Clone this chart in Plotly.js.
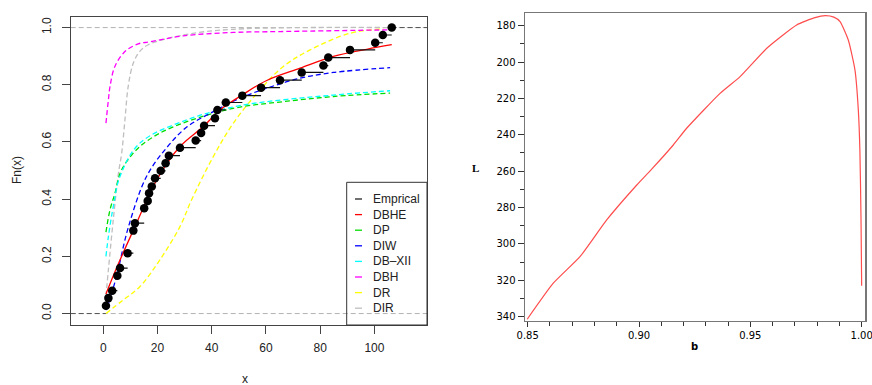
<!DOCTYPE html>
<html>
<head>
<meta charset="utf-8">
<script src="https://cdn.plot.ly/plotly-3.0.1.min.js"></script>
<style>html,body{margin:0;padding:0;background:#fff;}#chart{width:872px;height:385px;}</style>
</head>
<body>
<div id="chart"></div>
<script>
// ---------- Left panel: empirical CDF and fitted CDFs ----------
const empX = [1.0,1.9,3.3,5.2,6.2,9.0,11.1,11.7,15.1,16.4,16.9,17.9,19.1,21.2,23.0,24.2,28.3,34.1,36.1,37.2,41.2,42.1,45.2,51.3,58.2,65.2,73.2,81.2,83.0,91.0,100.3,103.1,106.4];
const empF = [0.027,0.054,0.080,0.132,0.159,0.211,0.290,0.316,0.368,0.394,0.421,0.444,0.473,0.499,0.526,0.552,0.580,0.605,0.631,0.657,0.683,0.712,0.738,0.762,0.790,0.816,0.843,0.867,0.895,0.922,0.947,0.974,1.0];

const dbheX = [1.0,4.9,11.7,19.7,28.3,36.9,43.1,51.7,60.3,72.6,84.9,97.2,106.4];
const dbheY = [0.068,0.159,0.304,0.467,0.584,0.654,0.712,0.767,0.815,0.858,0.899,0.924,0.940];

const dpX = [1.0,2.5,4.3,6.2,8.6,13.5,20.9,30.8,40.6,50.4,66.4,84.9,105.8];
const dpY = [0.285,0.363,0.42,0.49,0.531,0.584,0.631,0.671,0.700,0.722,0.741,0.759,0.771];

const diwX = [1.0,1.9,4.9,9.2,16.0,23.4,30.8,40.6,50.4,60.3,72.6,84.9,105.8];
const diwY = [0.012,0.035,0.13,0.30,0.48,0.58,0.652,0.706,0.753,0.788,0.823,0.843,0.860];

const dbxiiX = [1.0,1.9,3.7,6.2,13.5,30.8,50.4,84.9,105.8];
const dbxiiY = [0.20,0.269,0.374,0.48,0.596,0.677,0.727,0.764,0.779];

const dbhX = [1.0,1.9,2.5,4.3,8.0,12.9,17.2,29.5,48.0,65.2,105.8];
const dbhY = [0.666,0.747,0.794,0.864,0.916,0.943,0.950,0.971,0.983,0.986,0.992];

const drX = [1.0,7.4,13.5,20.9,28.3,32.6,40.6,48.0,57.8,66.4,76.3,91.0,103.3];
const drY = [0.0,0.048,0.094,0.188,0.304,0.398,0.549,0.666,0.782,0.864,0.922,0.980,0.995];

const dirX = [1.0,1.9,3.7,5.6,6.8,8.0,9.2,11.1,13.5,16.6,29.5,48.0,106.0];
const dirY = [0.06,0.153,0.328,0.49,0.561,0.677,0.794,0.876,0.917,0.940,0.974,0.994,1.0];

const legendNames = ['Emprical','DBHE','DP','DIW','DB\u2013XII','DBH','DR','DIR'];
const legendColors = ['#222222','#ff0000','#00dd00','#0000ff','#00ffff','#ff00ff','#ffff00','#bebebe'];

// ---------- Right panel: profile of L against b ----------
const bVals = [0.8498,0.8615,0.8735,0.8855,0.899,0.9057,0.9154,0.9214,0.9364,0.9454,0.9574,0.9708,0.9790,0.9836,0.9875,0.9903,0.9940,0.9970,0.9985,0.9992,0.9997,1.0];
const LVals = [341.4,321.6,307.0,286.8,267.6,258.9,245.6,236.4,217.2,208.0,192.4,179.6,175.6,174.5,175.3,177.8,187.9,204.4,226.3,248.3,285,323];
const bTicks = [0.85,0.90,0.95,1.00];
const bTickText = ['0.85','0.90','0.95','1.00'];

// ---------- build traces ----------
const X_MIN = -12, X_MAX = 119.4;
const W = 872, H = 385;
const px = v => v / W;
const py = v => 1 - v / H;

// ecdf horizontal segments
const segX = [], segY = [];
for (let i = 0; i < empX.length - 1; i++) {
  segX.push(empX[i], empX[i + 1], null);
  segY.push(empF[i], empF[i], null);
}
const dashR = '5px,3px';
function curve(x, y, color, dash) {
  return {x: x, y: y, type: 'scatter', mode: 'lines', xaxis: 'x', yaxis: 'y',
    line: {color: color, width: 1.3, dash: dash, shape: 'spline', smoothing: 1}, hoverinfo: 'skip'};
}
const traces = [
  {x: [X_MIN, empX[0]], y: [0, 0], type: 'scatter', mode: 'lines', line: {color: '#555', width: 1, dash: dashR}},
  {x: [empX[empX.length - 1], X_MAX], y: [1, 1], type: 'scatter', mode: 'lines', line: {color: '#555', width: 1, dash: dashR}},
  curve(dirX, dirY, legendColors[7], dashR),
  curve(drX, drY, legendColors[6], dashR),
  curve(dbhX, dbhY, legendColors[5], dashR),
  curve(dpX, dpY, legendColors[2], dashR),
  curve(dbxiiX, dbxiiY, legendColors[4], dashR),
  curve(diwX, diwY, legendColors[3], dashR),
  curve(dbheX, dbheY, legendColors[1], 'solid'),
  {x: segX, y: segY, type: 'scatter', mode: 'lines', line: {color: '#111', width: 1.2}},
  {x: empX, y: empF, type: 'scatter', mode: 'markers', marker: {color: '#000', size: 8.5}},
  {x: bVals, y: LVals, type: 'scatter', mode: 'lines', xaxis: 'x2', yaxis: 'y2',
    line: {color: '#ff4d4d', width: 1.2, shape: 'spline', smoothing: 0.5}}
];

// ---------- legend drawn by hand (box, keys, labels) ----------
const shapes = [
  {type: 'line', xref: 'x domain', yref: 'y', x0: 0, x1: 1, y0: 0, y1: 0, line: {color: '#b3b3b3', width: 1, dash: dashR}, layer: 'below'},
  {type: 'line', xref: 'x domain', yref: 'y', x0: 0, x1: 1, y0: 1, y1: 1, line: {color: '#b3b3b3', width: 1, dash: dashR}, layer: 'below'},
  {type: 'rect', xref: 'paper', yref: 'paper', x0: px(346.7), x1: px(427), y0: py(325), y1: py(182.3), line: {color: '#333', width: 1}, fillcolor: 'rgba(255,255,255,0)'}
];
const annotations = [];
const legTop = 199, legStep = 15.6;
legendNames.forEach((n, i) => {
  const yy = legTop + i * legStep;
  shapes.push({type: 'line', xref: 'paper', yref: 'paper', x0: px(355), x1: px(362), y0: py(yy), y1: py(yy), line: {color: legendColors[i], width: 1.3}});
  annotations.push({text: n, xref: 'paper', yref: 'paper', x: px(370.5), y: py(yy), xanchor: 'left', yanchor: 'middle', showarrow: false,
    font: {family: 'Liberation Sans, Arial, sans-serif', size: 12, color: '#222'}});
});
annotations.push(
  {text: 'Fn(x)', xref: 'paper', yref: 'paper', x: px(17), y: py(170), textangle: -90, showarrow: false, xanchor: 'center', yanchor: 'middle',
    font: {family: 'Liberation Sans, Arial, sans-serif', size: 12, color: '#222'}},
  {text: 'x', xref: 'paper', yref: 'paper', x: px(245), y: py(379), showarrow: false, xanchor: 'center', yanchor: 'middle',
    font: {family: 'Liberation Sans, Arial, sans-serif', size: 12, color: '#222'}},
  {text: '<b>L</b>', xref: 'paper', yref: 'paper', x: px(476), y: py(168), showarrow: false, xanchor: 'center', yanchor: 'middle',
    font: {family: 'Liberation Serif, serif', size: 11, color: '#000'}},
  {text: '<b>b</b>', xref: 'paper', yref: 'paper', x: px(694), y: py(346), showarrow: false, xanchor: 'center', yanchor: 'middle',
    font: {family: 'DejaVu Sans, sans-serif', size: 10, color: '#000'}}
);

const leftFont = {family: 'Liberation Sans, Arial, sans-serif', size: 12, color: '#222'};
const rightFont = {family: 'DejaVu Sans, sans-serif', size: 10, color: '#000'};

const layout = {
  width: W, height: H, margin: {l: 0, r: 0, t: 0, b: 0},
  paper_bgcolor: '#fff', plot_bgcolor: '#fff', showlegend: false,
  xaxis: {domain: [px(70.7), px(427)], range: [X_MIN, X_MAX], anchor: 'y', tick0: 0, dtick: 20,
    ticks: 'outside', ticklen: 8, tickcolor: '#444', showline: true, mirror: true, linecolor: '#444', linewidth: 1,
    showgrid: false, zeroline: false, tickfont: leftFont, ticklabelstandoff: 4},
  yaxis: {domain: [py(325), py(16.7)], range: [-0.04, 1.038], anchor: 'x', tick0: 0, dtick: 0.2, tickformat: '.1f',
    tickangle: -90, ticks: 'outside', ticklen: 8, tickcolor: '#444', showline: true, mirror: true, linecolor: '#444', linewidth: 1,
    showgrid: false, zeroline: false, tickfont: leftFont, ticklabelstandoff: 6},
  xaxis2: {domain: [px(525), px(865)], range: [0.8488, 1.0015], anchor: 'y2', tickmode: 'array', tickvals: bTicks, ticktext: bTickText,
    ticklabeloverflow: 'allow',
    ticks: 'outside', ticklen: 5, tickcolor: '#333', showline: true, mirror: true, linecolor: '#777', linewidth: 1.5,
    minor: {tick0: 0.85, dtick: 0.01, ticks: 'outside', ticklen: 4, tickcolor: '#333', showgrid: false},
    showgrid: false, zeroline: false, tickfont: rightFont},
  yaxis2: {domain: [py(320.7), py(13.3)], range: [342.2, 173.2], anchor: 'x2', tick0: 180, dtick: 20,
    ticks: 'outside', ticklen: 6, tickcolor: '#333', showline: true, mirror: true, linecolor: '#777', linewidth: 1.5,
    minor: {tick0: 180, dtick: 10, ticks: 'outside', ticklen: 4, tickcolor: '#333', showgrid: false},
    showgrid: false, zeroline: false, tickfont: rightFont},
  shapes: shapes, annotations: annotations
};

Plotly.newPlot('chart', traces, layout, {staticPlot: true, displayModeBar: false});
</script>
</body>
</html>
